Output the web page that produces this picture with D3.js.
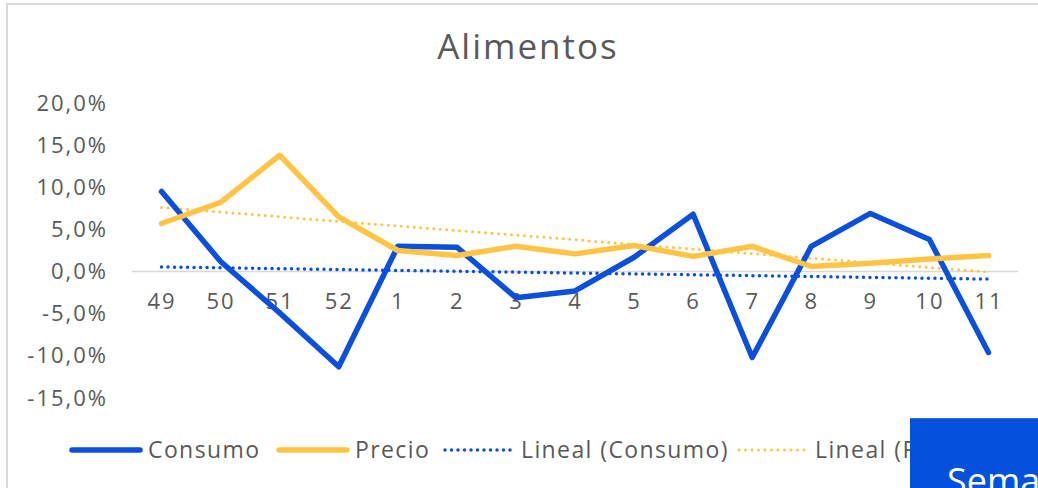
<!DOCTYPE html>
<html>
<head>
<meta charset="utf-8">
<script src="https://cdn.jsdelivr.net/npm/d3@7"></script>
<style>
  body { margin: 0; background: #fff; }
  svg { display: block; font-family: "Open Sans", sans-serif; }
</style>
</head>
<body>
<div id="chart"></div>
<script>
// chart data
const weeks = ["49", "50", "51", "52", "1", "2", "3", "4", "5", "6", "7", "8", "9", "10", "11"]
const consumo = [9.5, 1.2, -4.9, -11.3, 3.0, 2.9, -3.1, -2.3, 1.7, 6.8, -10.2, 3.0, 6.9, 3.8, -9.6]
const precio = [5.7, 8.2, 13.8, 6.5, 2.5, 1.9, 3.0, 2.1, 3.1, 1.8, 3.0, 0.6, 1.0, 1.5, 1.9]
const yTicks = [-15, -10, -5, 0, 5, 10, 15, 20]
const legendNames = ["Consumo", "Precio", "Lineal (Consumo)", "Lineal (Precio)"]

const blue = "#0a50dc"
const yellow = "#ffc445"
const textColor = "#595959"

const width = 1038, height = 488

const svg = d3.select("#chart").append("svg")
  .attr("width", width)
  .attr("height", height)

// frame of the chart area
svg.append("line").attr("x1", 6).attr("x2", width).attr("y1", 4).attr("y2", 4)
  .attr("stroke", "#d9d9d9").attr("stroke-width", 2)
svg.append("line").attr("x1", 7).attr("x2", 7).attr("y1", 4).attr("y2", height)
  .attr("stroke", "#d9d9d9").attr("stroke-width", 2)

// title
svg.append("text")
  .attr("x", 528).attr("y", 59)
  .attr("text-anchor", "middle")
  .attr("fill", textColor)
  .style("font-size", "35px")
  .style("letter-spacing", "2px")
  .text("Alimentos")

const x = d3.scalePoint().domain(weeks).range([132, 1018]).padding(0.5)
const y = d3.scaleLinear().domain([-15, 20]).range([398, 103])

const es = d3.formatLocale({ decimal: ",", thousands: ".", grouping: [3], currency: ["", "€"], minus: "-" })
const fmt = es.format(".1f")

// y axis labels
const yAxis = svg.append("g")
  .attr("transform", "translate(118,0)")
  .call(d3.axisLeft(y).tickValues(yTicks).tickSize(0).tickPadding(10).tickFormat(d => fmt(d) + "%"))
yAxis.select(".domain").remove()
yAxis.selectAll("text")
  .attr("fill", textColor)
  .style("font-size", "22px")
  .style("font-family", "Open Sans")
  .style("letter-spacing", "2px")

// zero line
svg.append("line")
  .attr("x1", 132).attr("x2", 1018)
  .attr("y1", y(0)).attr("y2", y(0))
  .attr("stroke", "#d9d9d9").attr("stroke-width", 1.5)

// x axis labels
const xAxis = svg.append("g")
  .attr("transform", "translate(0," + y(0) + ")")
  .call(d3.axisBottom(x).tickSize(0).tickPadding(22))
xAxis.select(".domain").remove()
xAxis.selectAll("text")
  .attr("fill", textColor)
  .style("font-size", "22px")
  .style("font-family", "Open Sans")
  .style("letter-spacing", "2px")

// linear trend (least squares) like Excel's "Lineal"
function trend(values) {
  const n = values.length
  const idx = d3.range(n)
  const mx = d3.mean(idx), my = d3.mean(values)
  const slope = d3.sum(idx, i => (i - mx) * (values[i] - my)) / d3.sum(idx, i => (i - mx) * (i - mx))
  return [
    { w: weeks[0], v: my - slope * mx },
    { w: weeks[n - 1], v: my + slope * (n - 1 - mx) }
  ]
}

const line = d3.line().x(d => x(d.w)).y(d => y(d.v))

// trend lines
svg.append("path")
  .datum(trend(consumo))
  .attr("d", line)
  .attr("fill", "none").attr("stroke", blue)
  .attr("stroke-width", 3.5).attr("stroke-linecap", "round")
  .attr("stroke-dasharray", "0 6.5")
svg.append("path")
  .datum(trend(precio))
  .attr("d", line)
  .attr("fill", "none").attr("stroke", yellow)
  .attr("stroke-width", 3).attr("stroke-linecap", "round")
  .attr("stroke-dasharray", "0 6.5")

// series lines
svg.append("path")
  .datum(weeks.map((w, i) => ({ w: w, v: consumo[i] })))
  .attr("d", line)
  .attr("fill", "none").attr("stroke", blue)
  .attr("stroke-width", 5.5).attr("stroke-linejoin", "round").attr("stroke-linecap", "round")
svg.append("path")
  .datum(weeks.map((w, i) => ({ w: w, v: precio[i] })))
  .attr("d", line)
  .attr("fill", "none").attr("stroke", yellow)
  .attr("stroke-width", 5.5).attr("stroke-linejoin", "round").attr("stroke-linecap", "round")

// legend
const legendStyles = [
  { color: blue, w: 5.5, dash: null, x: 72 },
  { color: yellow, w: 5.5, dash: null, x: 279 },
  { color: blue, w: 3.5, dash: "0 6.5", x: 445 },
  { color: yellow, w: 3, dash: "0 6.5", x: 739 }
]
const legend = svg.append("g").attr("transform", "translate(0,450)")
legendNames.forEach((name, i) => {
  const s = legendStyles[i]
  legend.append("line")
    .attr("x1", s.x).attr("x2", s.x + 68)
    .attr("stroke", s.color).attr("stroke-width", s.w)
    .attr("stroke-linecap", "round")
    .attr("stroke-dasharray", s.dash)
  legend.append("text")
    .attr("x", s.x + 76).attr("y", 8)
    .attr("fill", textColor)
    .style("font-size", "23px")
    .style("letter-spacing", "1.4px")
    .text(name)
})

// blue box from the page overlapping the chart
svg.append("rect")
  .attr("x", 910).attr("y", 418)
  .attr("width", 128).attr("height", 70)
  .attr("fill", "#0550dc")
svg.append("line")
  .attr("x1", 910).attr("x2", 1038).attr("y1", 418.5).attr("y2", 418.5)
  .attr("stroke", "#3b6fd6").attr("stroke-width", 1)
svg.append("text")
  .attr("x", 947).attr("y", 494)
  .attr("fill", "#fff")
  .style("font-size", "36px")
  .text("Semana")
</script>
</body>
</html>
